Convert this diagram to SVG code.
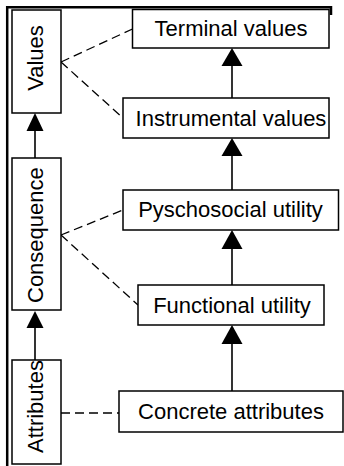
<svg xmlns="http://www.w3.org/2000/svg" width="344" height="466" viewBox="0 0 344 466">
<style>
.box{fill:#fff;stroke:#000;stroke-width:1.5}
.t{font-family:"Liberation Sans",Arial,sans-serif;font-size:22px;fill:#000}
.h{text-anchor:middle}
.ln{stroke:#000;stroke-width:1.6;fill:none}
.dash{stroke:#000;stroke-width:1.3;fill:none;stroke-dasharray:9,5}
.ah{fill:#000}
.frame{stroke:#000;stroke-width:2.5;fill:none}
</style>
<rect width="344" height="466" fill="#fff"/>
<path class="frame" d="M7.2,466 V7.2 H331 V15"/>
<g id="connectors">
<line class="ln" x1="35" y1="158" x2="35" y2="128"/>
<polygon class="ah" points="35,113 26.5,131 43.5,131"/>
<line class="ln" x1="35" y1="360" x2="35" y2="325"/>
<polygon class="ah" points="35,311 26.5,328 43.5,328"/>
<line class="ln" x1="232" y1="98" x2="232" y2="63"/>
<polygon class="ah" points="232,48 221.5,66 242.5,66"/>
<line class="ln" x1="232" y1="190" x2="232" y2="153"/>
<polygon class="ah" points="232,138 221.5,156 242.5,156"/>
<line class="ln" x1="232" y1="285" x2="232" y2="246"/>
<polygon class="ah" points="232,230 221.5,249 242.5,249"/>
<line class="ln" x1="232" y1="391" x2="232" y2="341"/>
<polygon class="ah" points="232,325 221.5,344 242.5,344"/>
<line class="dash" x1="61" y1="62" x2="132.5" y2="29"/>
<line class="dash" x1="61" y1="62" x2="123" y2="118"/>
<line class="dash" x1="61" y1="235" x2="123" y2="210"/>
<line class="dash" x1="61" y1="235" x2="138" y2="305"/>
<line class="dash" x1="61" y1="413" x2="119" y2="413"/>
</g>
<g id="values">
<rect class="box" x="12" y="10" width="49" height="103"/>
<text class="t h" transform="translate(43,58) rotate(-90)">Values</text>
</g>
<g id="consequence">
<rect class="box" x="12" y="158" width="49" height="152"/>
<text class="t" transform="translate(43,303) rotate(-90)">Consequence</text>
</g>
<g id="attributes">
<rect class="box" x="12" y="360" width="49" height="104"/>
<text class="t" transform="translate(43,453) rotate(-90)">Attributes</text>
</g>
<g id="terminal">
<rect class="box" x="132.5" y="9.5" width="196.5" height="38.5"/>
<text class="t h" x="231" y="35.5">Terminal values</text>
</g>
<g id="instrumental">
<rect class="box" x="123" y="98" width="206" height="40"/>
<text class="t h" x="231" y="125.5">Instrumental values</text>
</g>
<g id="psychosocial">
<rect class="box" x="123" y="190" width="215.5" height="40"/>
<text class="t h" x="230.5" y="217">Pyschosocial utility</text>
</g>
<g id="functional">
<rect class="box" x="138" y="285" width="186" height="40"/>
<text class="t h" x="232" y="312.5">Functional utility</text>
</g>
<g id="concrete">
<rect class="box" x="119" y="391" width="224" height="41"/>
<text class="t h" x="231" y="419">Concrete attributes</text>
</g>
</svg>
